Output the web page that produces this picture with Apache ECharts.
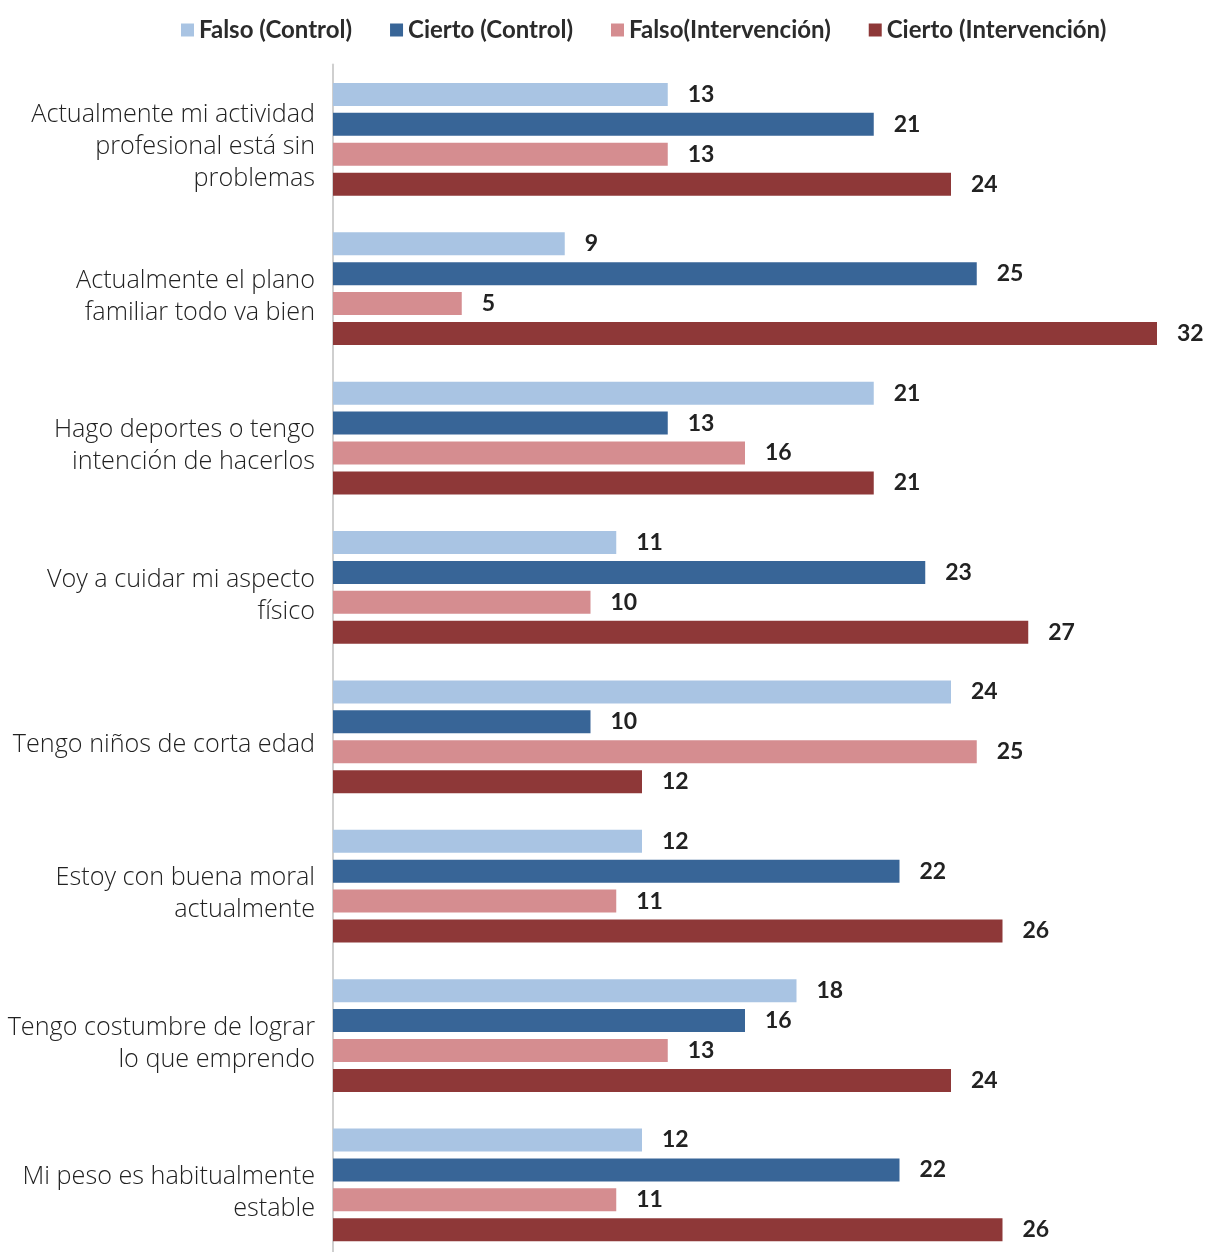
<!DOCTYPE html>
<html>
<head>
<meta charset="utf-8">
<script src="https://cdn.jsdelivr.net/npm/echarts@6/dist/echarts.min.js"></script>
<style>
  html, body { margin: 0; padding: 0; background: #fff; overflow: hidden; }
  #chart { width: 1209px; height: 1262px; }
</style>
</head>
<body>
<div id="chart"></div>
<script>
// Survey statements (top to bottom)
const categories = [
  'Actualmente mi actividad\nprofesional está sin\nproblemas',
  'Actualmente el plano\nfamiliar todo va bien',
  'Hago deportes o tengo\nintención de hacerlos',
  'Voy a cuidar mi aspecto\nfísico',
  'Tengo niños de corta edad',
  'Estoy con buena moral\nactualmente',
  'Tengo costumbre de lograr\nlo que emprendo',
  'Mi peso es habitualmente\nestable'
];

const seriesNames = ['Falso (Control)', 'Cierto (Control)', 'Falso(Intervención)', 'Cierto (Intervención)'];

const falsoControl       = [13, 9, 21, 11, 24, 12, 18, 12];
const ciertoControl      = [21, 25, 13, 23, 10, 22, 16, 22];
const falsoIntervencion  = [13, 5, 16, 10, 25, 11, 13, 11];
const ciertoIntervencion = [24, 32, 21, 27, 12, 26, 24, 26];

const colors = ['#A9C4E3', '#386597', '#D58D90', '#8E3838'];
const seriesData = [falsoControl, ciertoControl, falsoIntervencion, ciertoIntervencion];

const chart = echarts.init(document.getElementById('chart'));

chart.setOption({
  animation: false,
  backgroundColor: '#ffffff',
  legend: {
    top: 13,
    left: 176,
    itemWidth: 13,
    itemHeight: 13,
    itemGap: 38,
    icon: 'rect',
    textStyle: {
      fontFamily: 'Lato',
      fontSize: 24,
      fontWeight: 'bold',
      color: '#2b2b2b'
    },
    data: seriesNames
  },
  grid: {
    left: 333,
    top: 64.6,
    width: 875.5,
    height: 1195,
    containLabel: false
  },
  xAxis: {
    type: 'value',
    min: 0,
    max: 34,
    show: false
  },
  yAxis: {
    type: 'category',
    inverse: true,
    data: categories,
    axisLine: { show: true, lineStyle: { color: '#cfcfcf', width: 2 } },
    axisTick: { show: false },
    axisLabel: {
      margin: 18,
      fontFamily: 'Open Sans',
      fontSize: 25.2,
      fontWeight: 300,
      lineHeight: 32,
      color: '#222',
      align: 'right',
      // a short blank line on top nudges each label block slightly downward
      formatter: (v) => '{s|}\n' + v,
      rich: {
        s: { height: 16, lineHeight: 16, fontSize: 10 }
      }
    }
  },
  series: seriesData.map((d, i) => ({
    name: seriesNames[i],
    type: 'bar',
    data: d,
    barWidth: 23,
    barGap: '30%',
    itemStyle: { color: colors[i] },
    label: {
      show: true,
      position: 'right',
      distance: 20,
      fontFamily: 'Lato',
      fontSize: 23,
      fontWeight: 'bold',
      color: '#222'
    }
  }))
});
</script>
</body>
</html>
